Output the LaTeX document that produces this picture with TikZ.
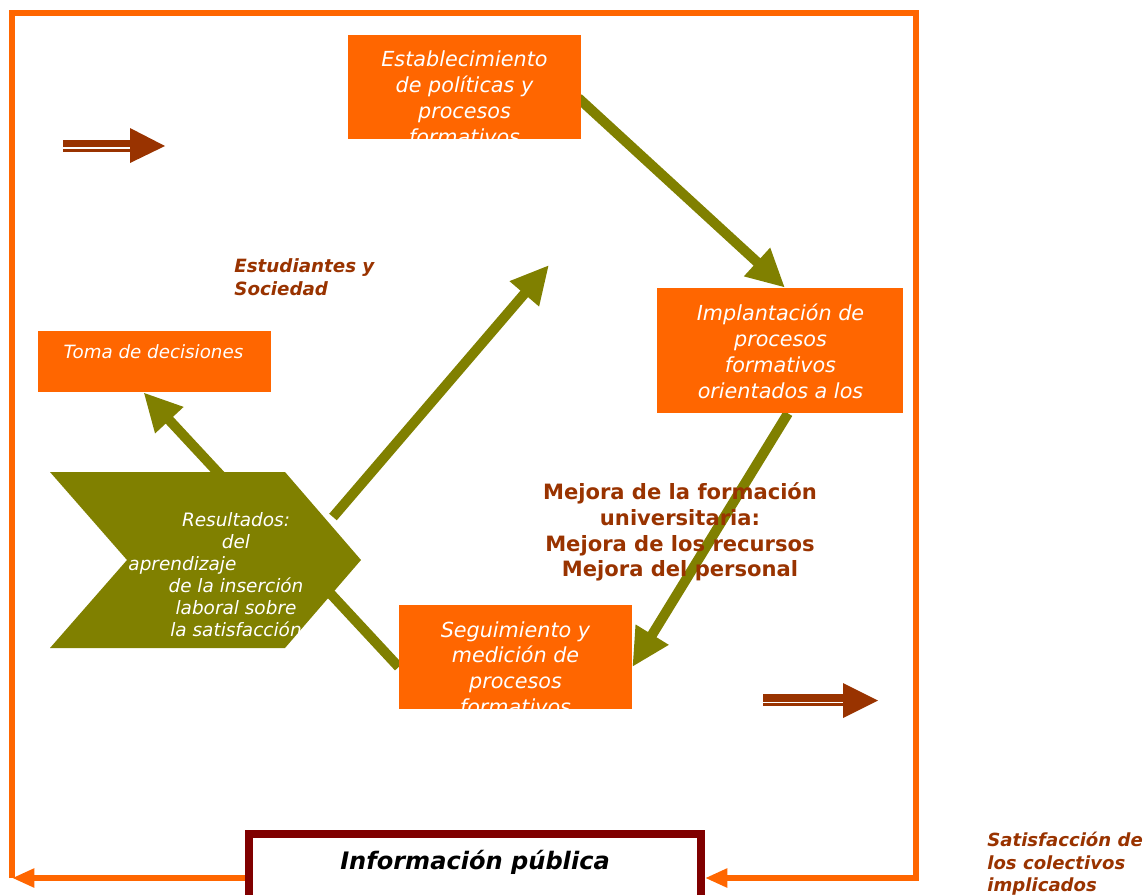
\documentclass[tikz,border=0pt]{standalone}
\usepackage{fontspec}
\setmainfont{DejaVu Sans}
\usetikzlibrary{arrows.meta,calc,backgrounds}
\definecolor{corange}{HTML}{FF6600}
\definecolor{colive}{HTML}{808000}
\definecolor{cbrown}{HTML}{993300}
\definecolor{cdarkred}{HTML}{800000}
\begin{document}
\begin{tikzpicture}[x=0.02cm,y=-0.02cm,
  procbox/.style={fill=corange,inner sep=0pt,minimum width=4.66cm,minimum height=2.08cm},
  proctext/.style={text=white,inner sep=0pt,align=center,font=\fontsize{11.8}{14.7}\selectfont\itshape},
  olivearrow/.style={draw=colive,line width=0.2cm,-{Triangle[length=0.76cm,width=0.72cm]}},
  frameline/.style={draw=corange,line width=0.12cm},
  framearrow/.style={frameline,-{Triangle[length=0.45cm,width=0.36cm]}},
  brownlabel/.style={text=cbrown,inner sep=0pt,font=\bfseries\itshape\fontsize{10.4}{13}\selectfont},
  twinarrow/.style={fill=cbrown}]
\useasboundingbox (0,0) rectangle (1147,894);
\clip (0,0) rectangle (1147,894);

% boxes
\node[procbox] (estab) at (464.5,87) {};
\node[procbox,minimum width=4.92cm,minimum height=2.5cm] (implant) at (780,350.5) {};
\node[procbox] (seg) at (515.5,657) {};
\node[procbox,minimum height=1.22cm] (toma) at (154.5,361.5) {};

\begin{scope}
\clip (estab.south west) rectangle (estab.north east);
\node[proctext] (estabtxt) at (464.5,98) {Establecimiento\\de políticas y\\procesos\\formativos};
\end{scope}
\node[proctext] (implanttxt) at (780.5,351.5) {Implantación de\\procesos\\formativos\\orientados a los};
\begin{scope}
\clip (seg.south west) rectangle (seg.north east);
\node[proctext] (segtxt) at (515.5,668) {Seguimiento y\\medición de\\procesos\\formativos};
\end{scope}
\node[proctext,font=\fontsize{10.4}{13}\selectfont\itshape] (tomatxt) at (153.5,352) {Toma de decisiones};

% chevron of results
\fill[colive] (50,472) -- (285,472) -- (361,560) -- (285,648) -- (50,648) -- (127,560) -- cycle;
\begin{scope}
\clip (50,472) -- (285,472) -- (361,560) -- (291,641) -- (50,641) -- (127,560) -- cycle;
\node[proctext,font=\fontsize{10.5}{12.5}\selectfont\itshape] (restxt) at (236,575) {Resultados:\\del\\\hbox{aprendizaje\hspace{61pt}}\\de la inserción\\laboral sobre\\la satisfacción};
\end{scope}

\coordinate (resout) at (333,517);
\coordinate (resend) at (549,265);

% olive arrows behind everything
\begin{scope}[on background layer]
\draw[olivearrow] ($(estab.east)+(-3,11)$) -- ($(implant.north)+(5,0)$);
\draw[olivearrow] ($(implant.south)+(8,0)$) -- ($(seg.east)+(0,10)$);
\draw[olivearrow] ($(seg.west)+(0,10)$) -- ($(toma.south)+(-11,0)$);
\draw[olivearrow] (resout) -- (resend);
\end{scope}

% labels
\node[brownlabel,anchor=west,align=left] (estud) at (234,277.5) {Estudiantes y\\Sociedad};
\node[text=cbrown,inner sep=0pt,align=center,font=\bfseries\fontsize{12}{14.7}\selectfont] (mejora) at (680,532)
  {Mejora de la formación\\universitaria:\\Mejora de los recursos\\Mejora del personal};
\node[brownlabel,anchor=west,align=left,font=\bfseries\itshape\fontsize{10.3}{12.8}\selectfont] (satisf) at (987,864)
  {Satisfacción de\\los colectivos\\implicados};

% double arrows
\fill[twinarrow] (63,140) rectangle (131,146.7);
\fill[twinarrow] (63,149.3) rectangle (131,151.7);
\fill[twinarrow] (130,128) -- (165,146) -- (130,163) -- cycle;
\fill[twinarrow] (763,694) rectangle (844,701.7);
\fill[twinarrow] (763,703.3) rectangle (844,706);
\fill[twinarrow] (843,683) -- (878,700.5) -- (843,718) -- cycle;

% public information and frame
\node[draw=cdarkred,line width=0.16cm,fill=white,inner sep=0pt,minimum width=9.04cm,minimum height=1.76cm] (info) at (475,878) {};
\node[inner sep=0pt,font=\bfseries\itshape\fontsize{13.7}{16}\selectfont] (infotxt) at (475,862) {Información pública};

\coordinate (fbl) at (12,878);
\coordinate (ftl) at (12,13);
\coordinate (ftr) at (916,13);
\coordinate (fbr) at (916,878);
\draw[framearrow] (info.west) -- (fbl);
\draw[framearrow] (fbl) -- (ftl) -- (ftr) -- (fbr) -- (info.east);
\end{tikzpicture}
\end{document}
